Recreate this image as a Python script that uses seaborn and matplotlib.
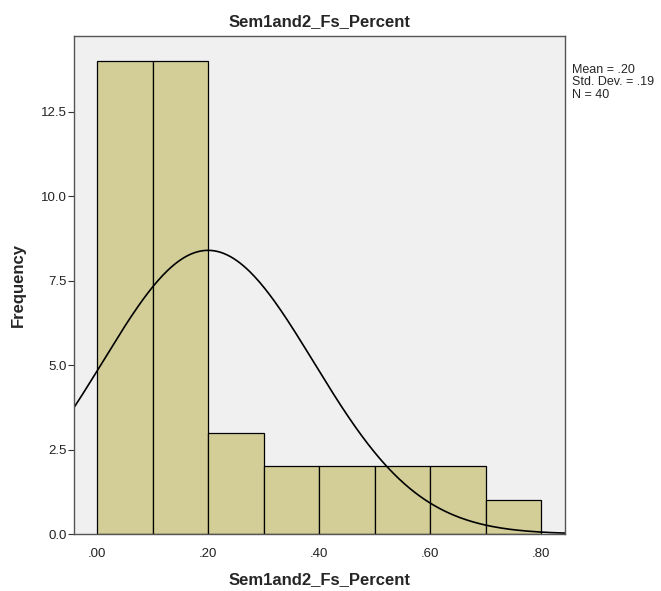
import numpy as np
import pandas as pd
import matplotlib
matplotlib.use("Agg")
import matplotlib.pyplot as plt
import seaborn as sns
from matplotlib.ticker import FuncFormatter

bin_edges = [0.0, 0.1, 0.2, 0.3, 0.4, 0.5, 0.6, 0.7, 0.8]
bin_centers = [0.05, 0.15, 0.25, 0.35, 0.45, 0.55, 0.65, 0.75]
counts = [14, 14, 3, 2, 2, 2, 2, 1]
mean_val = 0.20
sd_val = 0.19
n_val = 40
x_ticks = [0.0, 0.2, 0.4, 0.6, 0.8]
y_ticks = [0.0, 2.5, 5.0, 7.5, 10.0, 12.5]

sns.set_theme(style="white")
plt.rcParams['font.family'] = ['Liberation Sans', 'DejaVu Sans']

fig = plt.figure(figsize=(6.61, 5.91), dpi=100)
ax = fig.add_axes([0.112, 0.0964, 0.743, 0.843])
ax.set_facecolor("#f0f0f0")

df = pd.DataFrame({"x": bin_centers, "w": counts})
sns.histplot(data=df, x="x", weights="w", bins=bin_edges, ax=ax,
             color="#d3ce97", alpha=1.0, edgecolor="black", linewidth=0.9)

xs = np.linspace(-0.0414, 0.843, 300)
binw = bin_edges[1] - bin_edges[0]
ys = n_val * binw / (sd_val * np.sqrt(2 * np.pi)) * np.exp(-0.5 * ((xs - mean_val) / sd_val) ** 2)
sns.lineplot(x=xs, y=ys, ax=ax, color="black", linewidth=1.2)

ax.set_xlim(-0.0414, 0.843)
ax.set_ylim(0, 14.75)
ax.set_xticks(x_ticks)
ax.set_yticks(y_ticks)
ax.xaxis.set_major_formatter(FuncFormatter(lambda v, p: ("%.2f" % v).lstrip("0") if v >= 0 else "%.2f" % v))
ax.yaxis.set_major_formatter(FuncFormatter(lambda v, p: "%.1f" % v))
ax.tick_params(axis="y", which="major", left=True, length=4, width=0.8, color="#333333", labelsize=9.5, pad=1, labelcolor="#222222")
ax.tick_params(axis="x", which="major", bottom=False, labelsize=9.5, pad=4, labelcolor="#222222")
for s in ax.spines.values():
    s.set_color("#555555")
    s.set_linewidth(1.0)

ax.set_xlabel("Sem1and2_Fs_Percent", fontsize=12, fontweight="bold", labelpad=9)
ax.set_ylabel("Frequency", fontsize=12, fontweight="bold", labelpad=11)
ax.set_title("Sem1and2_Fs_Percent", fontsize=12, fontweight="bold", pad=7)

fig.text(0.866, 0.892, "Mean = .20\nStd. Dev. = .19\nN = 40", fontsize=9, va="top", ha="left", linespacing=1.05)

fig.savefig("out.png", dpi=100, facecolor="white")
